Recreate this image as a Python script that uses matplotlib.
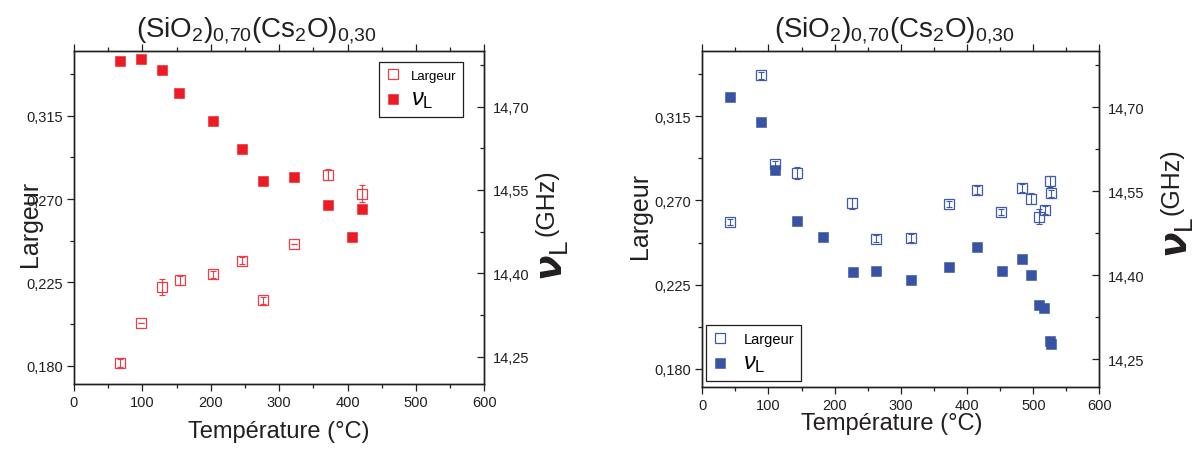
import numpy as np
import matplotlib
matplotlib.use("Agg")
import matplotlib.pyplot as plt
from matplotlib.ticker import MultipleLocator, FuncFormatter

plt.rcParams['font.family'] = 'Liberation Sans'
plt.rcParams['mathtext.fontset'] = 'custom'
plt.rcParams['mathtext.rm'] = 'Liberation Sans'
plt.rcParams['mathtext.it'] = 'Liberation Sans:italic'
plt.rcParams['mathtext.bf'] = 'Liberation Sans:bold'

# ---- panneau gauche (rouge)
T_larg_g = [68, 98, 129, 155, 204, 246, 276, 322, 372, 421]
larg_g = [0.1814, 0.2031, 0.2226, 0.2262, 0.2293, 0.2367, 0.2154, 0.2458, 0.2832, 0.2730]
err_larg_g = [0.002, 0.0, 0.0045, 0.0025, 0.002, 0.002, 0.002, 0.0, 0.003, 0.0045]
T_nu_g = [68, 98, 129, 154, 204, 246, 276, 322, 372, 407, 421]
nu_g = [14.782, 14.785, 14.766, 14.725, 14.674, 14.624, 14.566, 14.574, 14.523, 14.466, 14.516]

# ---- panneau droit (bleu)
T_larg_d = [42, 89, 110, 143, 226, 263, 316, 372, 415, 452, 483, 496, 509, 517, 526, 527]
larg_d = [0.2586, 0.3369, 0.2896, 0.2847, 0.2684, 0.2496, 0.2498, 0.2681, 0.2756, 0.2638,
          0.2767, 0.2709, 0.2612, 0.2648, 0.2803, 0.2738]
err_larg_d = [0.0015, 0.002, 0.0015, 0.003, 0.003, 0.002, 0.002, 0.0015, 0.002, 0.0015,
              0.002, 0.003, 0.004, 0.002, 0.003, 0.002]
T_nu_d = [42, 89, 110, 143, 183, 227, 263, 316, 372, 415, 453, 483, 496, 509, 516, 526, 527]
nu_d = [14.718, 14.674, 14.588, 14.497, 14.469, 14.405, 14.407, 14.392, 14.414, 14.450,
        14.408, 14.429, 14.401, 14.347, 14.342, 14.283, 14.277]

titre = r'(SiO$_2$)$_{0{,}70}$(Cs$_2$O)$_{0{,}30}$'
gris = '#231f20'


def virgule(nd):
    return FuncFormatter(lambda v, p: f"{v:.{nd}f}".replace('.', ','))


def panneau(fig, rect, T1, L, errL, T2, nu, c_plein, c_vide, cfg):
    ax = fig.add_axes(rect)
    ax2 = ax.twinx()

    h1, = ax.plot(T1, L, 's', mfc='none', mec=c_vide, mew=0.9, ms=7)
    ax.errorbar(T1, L, yerr=errL, fmt='none', ecolor=c_vide, elinewidth=0.8,
                capsize=2.5, capthick=0.8)
    h2, = ax2.plot(T2, nu, 's', color=c_plein, mec=c_plein, ms=7.5, mew=0.4)

    ax.set_xlim(0, 600)
    ax.set_ylim(0.17, 0.35)
    ax2.set_ylim(14.20, 14.80)

    ax.xaxis.set_major_locator(MultipleLocator(100))
    ax.xaxis.set_minor_locator(MultipleLocator(50))
    ax.yaxis.set_major_formatter(virgule(3))
    ax2.yaxis.set_major_formatter(virgule(2))
    ax.set_yticks([0.180, 0.225, 0.270, 0.315])
    ax.set_yticks([0.2025, 0.2475, 0.2925, 0.3375], minor=True)
    ax2.set_yticks([14.25, 14.40, 14.55, 14.70])
    ax2.set_yticks([14.325, 14.475, 14.625, 14.775], minor=True)

    ax.tick_params(which='both', direction='out', top=True, colors=gris,
                   labelsize=10.5, width=0.9)
    ax.tick_params(which='major', length=5, pad=3)
    ax.tick_params(which='minor', length=3)
    ax2.tick_params(which='both', direction='in', colors=gris, labelsize=10.5, width=0.9)
    ax2.tick_params(which='major', length=5, pad=6)
    ax2.tick_params(which='minor', length=3)
    for a in (ax, ax2):
        for s in a.spines.values():
            s.set_color(gris)
            s.set_linewidth(1.0)

    ax.set_xlabel('Température (°C)', fontsize=17, color=gris)
    ax.xaxis.set_label_coords(cfg['xl'][0], cfg['xl'][1])
    ax.set_ylabel('Largeur', fontsize=18, color=gris)
    ax.yaxis.set_label_coords(cfg['yl'][0], cfg['yl'][1])

    # axe de droite : nu_L en gros + (GHz)
    ax2.text(cfg['ghz'][0], cfg['ghz'][1], '(GHz)', rotation=90, ha='left', va='center',
             transform=ax2.transAxes, fontsize=18, color=gris)
    ax2.text(cfg['nu'][0], cfg['nu'][1], r'$\boldsymbol{\nu}_{\mathrm{L}}$', rotation=90,
             ha='left', va='center', transform=ax2.transAxes, fontsize=27, color=gris)

    ax.text(cfg['titre_x'], 1.044, titre, transform=ax.transAxes, ha='center',
            va='baseline', fontsize=20, color=gris)

    leg = ax2.legend([h1, h2], ['Largeur', r'$\nu_{\mathrm{L}}$'], loc=cfg['leg_loc'],
                     bbox_to_anchor=cfg['leg_pos'], borderaxespad=0, fancybox=False,
                     edgecolor=gris, framealpha=1, handlelength=1.0,
                     handletextpad=cfg['leg_htp'], labelspacing=0.35, borderpad=0.5)
    leg.get_frame().set_linewidth(0.9)
    leg.get_texts()[0].set_fontsize(cfg['leg_fs'])
    leg.get_texts()[1].set_fontsize(17)
    return ax, ax2


fig = plt.figure(figsize=(11.99, 4.52), dpi=100)

panneau(fig, [0.0617, 0.1476, 0.3422, 0.7374], T_larg_g, larg_g, err_larg_g, T_nu_g, nu_g,
        '#ed1c24', '#ef3b43',
        dict(xl=(0.5, -0.107), yl=(-0.078, 0.484), ghz=(1.1236, 0.5485), nu=(1.1236, 0.374),
             titre_x=0.445, leg_loc='upper left', leg_pos=(0.743, 0.966), leg_fs=9.5,
             leg_htp=0.8))

panneau(fig, [0.5857, 0.1409, 0.3313, 0.7441], T_larg_d, larg_d, err_larg_d, T_nu_d, nu_d,
        '#3953a4', '#3f5aa8',
        dict(xl=(0.477, -0.072), yl=(-0.127, 0.514), ghz=(1.152, 0.615), nu=(1.152, 0.45),
             titre_x=0.483, leg_loc='lower left', leg_pos=(0.009, 0.019), leg_fs=10.5,
             leg_htp=1.2))

fig.savefig('out.png', dpi=100)
